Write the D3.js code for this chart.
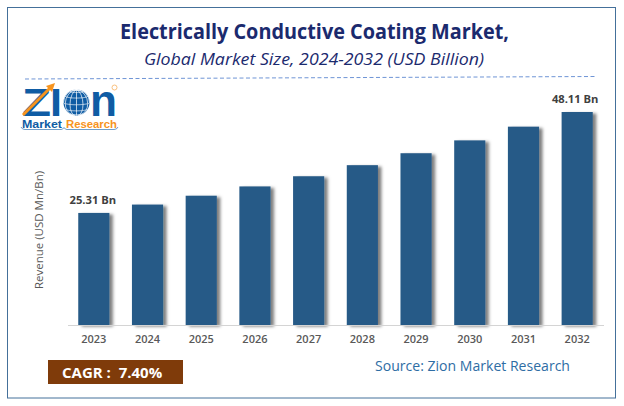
<!DOCTYPE html>
<html>
<head>
<meta charset="utf-8">
<script src="https://cdn.jsdelivr.net/npm/d3@7"></script>
<style>
  html, body { margin: 0; padding: 0; background: #fff; }
  svg { display: block; }
  text { font-family: "Open Sans", sans-serif; }
  .logo text { font-family: "Liberation Sans", sans-serif; }
</style>
</head>
<body>
<svg width="624" height="406"></svg>
<script>
const years = ['2023', '2024', '2025', '2026', '2027', '2028', '2029', '2030', '2031', '2032'];
const revenue = [25.31, 27.2, 29.2, 31.3, 33.6, 36.1, 38.8, 41.7, 44.8, 48.11];
const barLabels = ['25.31 Bn', '', '', '', '', '', '', '', '', '48.11 Bn'];

const svg = d3.select('svg');
const baseY = 325, left = 66, right = 602;

// frame
svg.append('rect')
  .attr('x', 7.5).attr('y', 7.5).attr('width', 597 + 11).attr('height', 390.5)
  .attr('fill', '#fff').attr('stroke', '#44709a').attr('stroke-width', 1);

// shadow for the bars
const defs = svg.append('defs');
const shadow = defs.append('filter').attr('id', 'barShadow')
  .attr('x', '-20%').attr('y', '-5%').attr('width', '150%').attr('height', '110%');
shadow.append('feDropShadow')
  .attr('dx', 3.5).attr('dy', 1.5).attr('stdDeviation', 1.8)
  .attr('flood-color', '#000').attr('flood-opacity', 0.5);

// titles
svg.append('text').attr('x', 314.5).attr('y', 39)
  .attr('text-anchor', 'middle').attr('textLength', 389).attr('lengthAdjust', 'spacingAndGlyphs')
  .attr('font-size', 21).attr('font-weight', 700).attr('fill', '#1b2a6e')
  .text('Electrically Conductive Coating Market,');
svg.append('text').attr('x', 314).attr('y', 65)
  .attr('text-anchor', 'middle').attr('textLength', 340).attr('lengthAdjust', 'spacingAndGlyphs')
  .attr('font-size', 17).attr('font-style', 'italic').attr('fill', '#1b2a6e')
  .text('Global Market Size, 2024-2032 (USD Billion)');
svg.append('line')
  .attr('x1', 25).attr('x2', 597).attr('y1', 79).attr('y2', 76.5)
  .attr('stroke', '#6f95d6').attr('stroke-width', 1).attr('stroke-dasharray', '4 2.5');

// scales
const x = d3.scaleBand().domain(years).range([left + 1.5, right + 1.5]).paddingInner(0.42).paddingOuter(0.2);
const y = d3.scaleLinear().domain([0, 48.11]).range([baseY, 112]);

// bars
svg.append('g').selectAll('rect')
  .data(revenue)
  .enter().append('rect')
    .attr('x', (d, i) => x(years[i]))
    .attr('y', d => y(d))
    .attr('width', x.bandwidth())
    .attr('height', d => baseY - y(d))
    .attr('fill', '#265a87')
    .attr('filter', 'url(#barShadow)');

// axis
const axis = svg.append('g')
  .attr('transform', 'translate(0,' + baseY + ')')
  .call(d3.axisBottom(x).tickSize(0).tickPadding(10));
axis.select('.domain').attr('stroke', '#d4d4d4').attr('stroke-width', 1);
axis.selectAll('text')
  .attr('font-size', 11).attr('font-weight', 600).attr('fill', '#595959')
  .style('font-family', '"Open Sans", sans-serif');

// value labels
svg.append('g').selectAll('text')
  .data(barLabels)
  .enter().append('text')
    .attr('x', (d, i) => x(years[i]) + x.bandwidth() / 2 - (i == 0 ? 1 : 2))
    .attr('y', (d, i) => y(revenue[i]) - 9)
    .attr('text-anchor', 'middle')
    .attr('font-size', 11.2).attr('font-weight', 700).attr('fill', '#404040')
    .text(d => d);

// y axis title
svg.append('text')
  .attr('transform', 'translate(43,230) rotate(-90)')
  .attr('text-anchor', 'middle').attr('font-size', 11.5).attr('fill', '#595959')
  .text('Revenue (USD Mn/Bn)');

// cagr box
svg.append('rect').attr('x', 48).attr('y', 360).attr('width', 135).attr('height', 24).attr('fill', '#7f3b0a');
svg.append('text').attr('x', 62).attr('y', 378)
  .attr('font-size', 15).attr('font-weight', 700).attr('fill', '#fff').attr('xml:space', 'preserve')
  .text('CAGR :  7.40%');

// source
svg.append('text').attr('x', 375).attr('y', 371)
  .attr('textLength', 195).attr('lengthAdjust', 'spacingAndGlyphs')
  .attr('font-size', 14).attr('fill', '#2e6da4')
  .text('Source: Zion Market Research');

// logo
const logo = svg.append('g').attr('class', 'logo');
logo.append('text').attr('x', 22).attr('y', 116)
  .attr('font-size', 38).attr('font-weight', 700).attr('fill', '#0f5ca4')
  .attr('textLength', 29).attr('lengthAdjust', 'spacingAndGlyphs').text('Z');
logo.append('text').attr('x', 50).attr('y', 116)
  .attr('font-size', 38).attr('font-weight', 700).attr('fill', '#0f5ca4')
  .attr('textLength', 12).attr('lengthAdjust', 'spacingAndGlyphs').text('I');
logo.append('path').attr('d', 'M23,115 L51,87').attr('stroke', '#f7941e').attr('stroke-width', 3).attr('fill', 'none');
logo.append('path').attr('d', 'M55,83 L46,86 L52,92 Z').attr('fill', '#f7941e');

// globe
const globe = d3.geoOrthographic().scale(13).translate([76.5, 102.5]).rotate([-60, -10]);
const globePath = d3.geoPath().projection(globe);
logo.append('path').datum({type: 'Sphere'}).attr('d', globePath).attr('fill', '#0f5ca4');
logo.append('path').datum(d3.geoGraticule().step([30, 30])()).attr('d', globePath)
  .attr('fill', 'none').attr('stroke', '#fff').attr('stroke-width', 0.7);

logo.append('text').attr('x', 90).attr('y', 116)
  .attr('font-size', 44).attr('font-weight', 700).attr('fill', '#0f5ca4')
  .attr('textLength', 27).attr('lengthAdjust', 'spacingAndGlyphs').text('n');
logo.append('text').attr('x', 22).attr('y', 128)
  .attr('font-size', 11.5).attr('font-weight', 700).attr('fill', '#0f5ca4')
  .attr('textLength', 40).attr('lengthAdjust', 'spacingAndGlyphs').text('Market');
logo.append('text').attr('x', 66).attr('y', 128)
  .attr('font-size', 11.5).attr('font-weight', 700).attr('fill', '#f7941e')
  .attr('textLength', 51).attr('lengthAdjust', 'spacingAndGlyphs').text('Research');
logo.append('path').attr('d', 'M21,127 Q22,129.5 25,129.5 L61,129.5 Q63,129.5 64,127.5 Q65,129.5 67,129.5 L114,129.5 Q117,129.5 118,127')
  .attr('fill', 'none').attr('stroke', '#0f5ca4').attr('stroke-width', 0.6);
logo.append('circle').attr('cx', 114.5).attr('cy', 87.5).attr('r', 2.5).attr('fill', 'none').attr('stroke', '#f7a84a').attr('stroke-width', 0.7);
</script>
</body>
</html>
